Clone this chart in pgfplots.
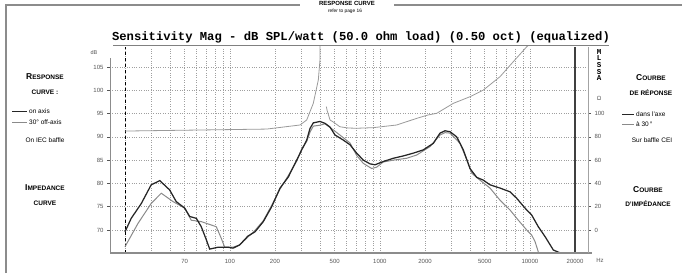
\documentclass[border=0pt]{standalone}
\usepackage{fontspec}
\setmainfont{Liberation Sans}
\setmonofont{Liberation Mono}
\usepackage{pgfplots}
\pgfplotsset{compat=1.18}
\definecolor{offgray}{HTML}{8A8A8A}
\definecolor{impgray}{HTML}{9A9A9A}
\definecolor{framegray}{HTML}{8C8C8C}
\definecolor{labgray}{HTML}{555555}
\begin{document}
\begin{tikzpicture}[x=1pt,y=1pt]
\useasboundingbox (0,0) rectangle (682,273);
% frame
\draw[framegray, line width=1.5pt] (6,0) -- (6,268) -- (300,268);
\draw[framegray, line width=1.5pt] (394,268) -- (682,268);
\node[font=\bfseries\fontsize{6}{6}\selectfont] at (347,270) {RESPONSE CURVE};
\node[font=\fontsize{4.8}{5}\selectfont] at (345,262) {refer to page 16};
% title
\node[font=\ttfamily\bfseries\fontsize{12.2}{13}\selectfont] at (361,236) {Sensitivity Mag - dB SPL/watt (50.0 ohm load) (0.50 oct) (equalized)};
\draw[gray, line width=0.5pt] (113,228) -- (609,228);

\begin{axis}[at={(110pt,20pt)}, anchor=south west, scale only axis,
  width=478pt, height=206pt,
  xmode=log, xmin=15.89, xmax=24418, ymin=65.06, ymax=109.29,
  axis line style={draw=none},
  xtick={20,30,40,50,60,70,80,90,100,200,300,400,500,600,700,800,900,1000,2000,3000,4000,5000,6000,7000,8000,9000,10000},
  xticklabels={},
  x tick style={draw=none},
  extra x ticks={50,100,200,500,1000,2000,5000,10000,20000},
  extra x tick labels={70,100,200,500,1000,2000,5000,10000,20000},
  extra x tick style={grid=none, tick style={draw=none}},
  ytick={70,75,80,85,90,95,100,105},
  ytick pos=left, tick align=outside,
  major tick length=3pt,
  y tick style={labgray, line width=0.6pt},
  xmajorgrids, ymajorgrids,
  grid style={dotted, gray!75, line width=0.5pt},
  tick label style={font=\fontsize{6}{7}\selectfont, text=labgray},
  /pgf/number format/assume math mode=true,
  clip=true]
\draw[black, dashed, line width=0.9pt] (axis cs:20,65.06) -- (axis cs:20,109.29);
\draw[black!75, line width=1.2pt] (axis cs:20000,65.06) -- (axis cs:20000,109.29);
\addplot[offgray, line width=1pt] coordinates {
(20,66.4)(24.4,71.4)(29.9,75.7)(34.9,77.9)(41.8,76.1)(50.0,74.7)(55.3,72.1)(64.5,71.8)(81.2,70.7)(87.7,68.2)(92.4,66.3)(105,66.3)(116.3,66.8)(132.1,68.5)(147.1,69.9)(167.2,72.0)(190.1,75.3)(216.1,78.8)(245.5,81.7)(279.1,84.8)(301.4,87.4)(325.4,89.0)(342.3,91.0)(360,92.3)(399,92.5)(430.9,92.8)(489,91.5)(541,90.4)(632,88.7)(701,86.0)(776,84.3)(882.5,83.2)(953,83.5)(1054,84.6)(1230,85.0)(1510,85.4)(1761,86.1)(2160,87.9)(2518,90.4)(2720,90.9)(2937,90.8)(3424,88.6)(3888,84.3)(4096,82.2)(4650,80.7)(5425,79.0)(6325,76.4)(7375,74.3)(8380,72.1)(9530,70.0)(10290,68.9)(10830,67.5)(11385,65.3)
};
\addplot[black!85, line width=1.25pt] coordinates {
(20,69.6)(22.0,72.5)(25.7,75.7)(29.9,79.7)(34.1,80.6)(39.7,78.6)(43.9,76.1)(50.0,74.7)(54.0,72.9)(59.8,72.5)(64.5,70.7)(69.7,67.9)(73.4,65.9)(83.4,66.3)(97.2,66.3)(105,66.1)(116.3,66.8)(132.1,68.7)(147.1,69.6)(167.2,71.8)(190.1,75.0)(216.1,79.0)(245.5,81.4)(279.1,85.0)(301.4,87.2)(325.4,89.3)(342.3,91.8)(360,93.0)(399,93.3)(430.9,92.9)(465.3,92.1)(502.4,90.4)(570.6,89.3)(632.5,88.3)(701,86.5)(776,85.0)(859.7,84.2)(928.3,84.0)(1054,84.7)(1230,85.4)(1433,85.9)(1671,86.5)(1948,87.2)(2271,88.6)(2518,90.8)(2720,91.3)(2937,91.1)(3254,90.0)(3601,87.2)(3990,83.2)(4423,81.3)(4895,80.7)(5425,79.7)(6325,79.0)(7375,78.2)(8176,76.8)(9283,74.7)(10290,73.2)(11385,70.7)(12619,68.6)(14337,65.7)(15887,65.1)
};
\end{axis}

\begin{axis}[at={(110pt,20pt)}, anchor=south west, scale only axis,
  width=478pt, height=206pt,
  xmode=log, xmin=15.89, xmax=24418, ymin=-19.76, ymax=157.2,
  axis line style={draw=none},
  xtick=\empty,
  ytick={0,20,40,60,80,100},
  ytick pos=right, yticklabel pos=right, tick align=outside,
  major tick length=3pt,
  y tick style={labgray, line width=0.6pt},
  tick label style={font=\fontsize{6}{7}\selectfont, text=labgray},
  /pgf/number format/assume math mode=true,
  clip=true]
\addplot[impgray, line width=0.8pt] coordinates {
(20,85.0)(63.2,85.9)(176,86.7)(293.6,90.2)(325.4,94.5)(360,108.8)(388.8,128.8)(399,146)(405,250)
};
\addplot[impgray, line width=0.8pt] coordinates {
(440,106)(444.3,103.1)(465.3,94.5)(489,92.8)(541,88.7)(616,87.6)(701,87.4)(900,87.9)(1295,90.2)(1761,95.9)(2094,98.8)(2393,100.2)(3089,108.8)(3990,114.5)(4895,120.2)(6325,131.7)(7759,144.6)(9530,157.4)(10290,161)
};
\end{axis}

% axis lines
\draw[framegray, line width=1pt] (110,20) -- (110,215);
\draw[framegray, line width=1.5pt] (110,20) -- (592,20);
\draw[framegray!80, line width=0.8pt] (588,20) -- (588,226);
% axis annotations
\node[font=\fontsize{5.5}{6}\selectfont, text=labgray] at (94,220) {dB};
\node[font=\fontsize{6}{7}\selectfont, text=labgray] at (600,13) {Hz};
\node[font=\fontsize{6}{7}\selectfont, text=labgray] at (599,175) {Ω};
\node[font=\ttfamily\bfseries\fontsize{7.5}{6.6}\selectfont, align=center, inner sep=0pt] at (599,208) {M\\L\\S\\S\\A};

% left texts
\node[font=\bfseries\fontsize{8.5}{9}\selectfont] at (45,196) {R{\fontsize{6.5}{7}\selectfont ESPONSE}};
\node[font=\bfseries\fontsize{6.5}{7}\selectfont] at (45,181) {CURVE :};
\draw[black!85, line width=1pt] (12,161) -- (27,161);
\node[font=\fontsize{6.5}{7}\selectfont, anchor=west, inner sep=1pt] at (28,162) {on axis};
\draw[offgray, line width=1pt] (12,150) -- (27,150);
\node[font=\fontsize{6.5}{7}\selectfont, anchor=west, inner sep=1pt] at (28,151) {30° off-axis};
\node[font=\fontsize{6.5}{7}\selectfont] at (45,133) {On IEC baffle};
\node[font=\bfseries\fontsize{8.5}{9}\selectfont] at (45,85) {I{\fontsize{6.5}{7}\selectfont MPEDANCE}};
\node[font=\bfseries\fontsize{6.5}{7}\selectfont] at (45,70) {CURVE};

% right texts
\node[font=\bfseries\fontsize{8.5}{9}\selectfont] at (651,195) {C{\fontsize{6.5}{7}\selectfont OURBE}};
\node[font=\bfseries\fontsize{6.5}{7}\selectfont] at (651,180) {DE RÉPONSE};
\draw[black!85, line width=1pt] (622,158) -- (634,158);
\node[font=\fontsize{6.5}{7}\selectfont, anchor=west, inner sep=1pt] at (635,159) {dans l'axe};
\draw[offgray, line width=1pt] (622,148) -- (634,148);
\node[font=\fontsize{6.5}{7}\selectfont, anchor=west, inner sep=1pt] at (635,149) {à 30\,°};
\node[font=\fontsize{6.5}{7}\selectfont] at (652,133) {Sur baffle CEI};
\node[font=\bfseries\fontsize{8.5}{9}\selectfont] at (648,83) {C{\fontsize{6.5}{7}\selectfont OURBE}};
\node[font=\bfseries\fontsize{6.5}{7}\selectfont] at (648,69) {D'IMPÉDANCE};
\end{tikzpicture}
\end{document}
